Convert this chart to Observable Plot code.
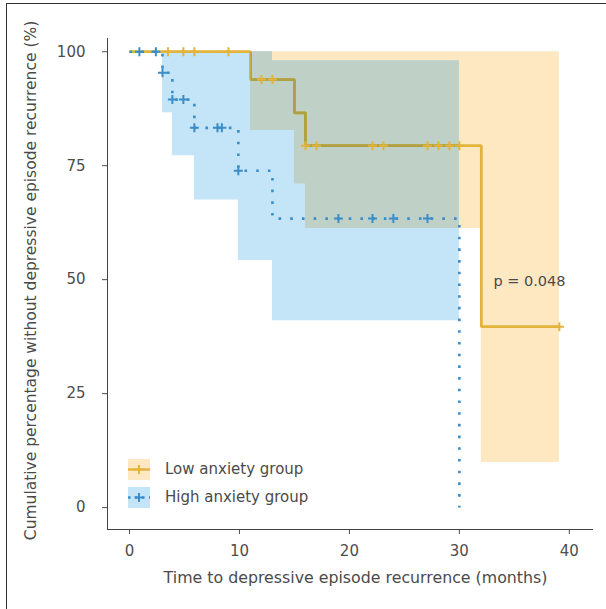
<!DOCTYPE html>
<html>
<head>
<meta charset="utf-8">
<script src="https://cdn.jsdelivr.net/npm/d3@7"></script>
<script src="https://cdn.jsdelivr.net/npm/@observablehq/plot@0.6"></script>
<style>
  body { margin: 0; background: #fff; }
  #wrap { position: relative; width: 606px; height: 609px; overflow: hidden; font-family: "DejaVu Sans", sans-serif; }
  #border { position: absolute; left: 6px; top: 3px; width: 600px; height: 640px; border-top: 1.5px solid #333; border-left: 1.5px solid #333; pointer-events: none; }
  #legend { position: absolute; left: 128px; top: 455px; }
  .row { display: flex; align-items: center; height: 28px; }
  .row svg { display: block; }
  .row span { margin-left: 15px; font-size: 15px; color: #4a4a4a; line-height: 1; }
</style>
</head>
<body>
<div id="wrap">
  <div id="chart"></div>
  <div id="legend"></div>
  <div id="border"></div>
</div>
<script>
// ---- data ----
const groups = ["Low anxiety group", "High anxiety group"];
const xTicks = [0, 10, 20, 30, 40];
const yTicks = [0, 25, 50, 75, 100];
const xDomain = [-2, 42.2];
const yDomain = [-4.8, 102.9];
const xTitle = "Time to depressive episode recurrence (months)";
const yTitle = "Cumulative percentage without depressive episode recurrence (%)";
const pText = "p = 0.048";

// Low anxiety group (Kaplan–Meier steps)
const lowStepTime = [0, 11, 15, 16, 32, 39.1];
const lowStepSurv = [100, 93.9, 86.6, 79.4, 39.7, 39.7];
const lowCensorTime = [3.5, 4.9, 5.9, 9, 12, 13, 16, 17, 22.1, 23.1, 27.1, 28.1, 29.1, 30, 39.1];
const lowCensorSurv = [100, 100, 100, 100, 93.9, 93.9, 79.4, 79.4, 79.4, 79.4, 79.4, 79.4, 79.4, 79.4, 39.7];
const lowBandTime = [0, 11, 15, 16, 32, 39.1];
const lowBandLow  = [100, 82.7, 71.0, 61.2, 9.9, 9.9];
const lowBandHigh = [100, 100, 100, 100, 100, 100];

// High anxiety group
const highStepTime = [0, 3, 3.9, 5.9, 9.9, 13, 30];
const highStepSurv = [100, 95.4, 89.5, 83.3, 73.9, 63.4, 0];
const highCensorTime = [0.9, 2.4, 3, 3.9, 4.9, 5.9, 8, 8.4, 9.9, 19, 22.1, 24, 27.1];
const highCensorSurv = [100, 100, 95.4, 89.5, 89.5, 83.3, 83.3, 83.3, 73.9, 63.4, 63.4, 63.4, 63.4];
const highBandTime = [0, 3, 3.9, 5.9, 9.9, 13, 30];
const highBandLow  = [100, 86.6, 77.2, 67.5, 54.2, 41.0, 41.0];
const highBandHigh = [100, 100, 100, 100, 100, 98, 98];

// ---- colours ----
const lowLine = "#E2B43C", lowLineOver = "#ADA045", lowFill = "#FDE8C2";
const highLine = "#3A8DC8", highFill = "#C4E4F7";
const overlapFill = "#BFD1C7";
const textColor = "#4a4a4a";

// ---- tables ----
const zipTo = (t, a, b) => t.map((x, i) => (b ? { t: x, lo: a[i], hi: b[i] } : { t: x, s: a[i] }));
const lowLineData = zipTo(lowStepTime, lowStepSurv);
const highLineData = zipTo(highStepTime, highStepSurv);
const lowCens = zipTo(lowCensorTime, lowCensorSurv);
const highCens = zipTo(highCensorTime, highCensorSurv);
const lowBand = zipTo(lowBandTime, lowBandLow, lowBandHigh);
const highBand = zipTo(highBandTime, highBandLow, highBandHigh);

function stepAt(times, vals, t) {
  let v = vals[0];
  for (let i = 0; i < times.length; i++) if (times[i] <= t) v = vals[i];
  return v;
}
const ovEnd = Math.min(lowBandTime[lowBandTime.length - 1], highBandTime[highBandTime.length - 1]);
const ovTimes = Array.from(new Set([...lowBandTime, ...highBandTime])).filter(t => t <= ovEnd).sort((a, b) => a - b);
const overlap = ovTimes.map(t => {
  const lo = Math.max(stepAt(lowBandTime, lowBandLow, t), stepAt(highBandTime, highBandLow, t));
  const hi = Math.min(stepAt(lowBandTime, lowBandHigh, t), stepAt(highBandTime, highBandHigh, t));
  return { t, lo, hi: Math.max(lo, hi) };
});

const plusSymbol = {
  draw(ctx) { const r = 4.5; ctx.moveTo(-r, 0); ctx.lineTo(r, 0); ctx.moveTo(0, -r); ctx.lineTo(0, r); }
};

const lineOpts = { x: "t", y: "s", curve: "step-after", strokeWidth: 2.8, strokeLinecap: "butt", strokeLinejoin: "miter" };

const chart = Plot.plot({
  width: 606,
  height: 609,
  marginLeft: 107,
  marginRight: 13,
  marginTop: 38,
  marginBottom: 80,
  style: { fontFamily: "DejaVu Sans, sans-serif", fontSize: "15px", color: "#4d4d4d", background: "transparent" },
  x: { domain: xDomain },
  y: { domain: yDomain },
  marks: [
    Plot.areaY(lowBand, { x: "t", y1: "lo", y2: "hi", curve: "step-after", fill: lowFill }),
    Plot.areaY(highBand, { x: "t", y1: "lo", y2: "hi", curve: "step-after", fill: highFill }),
    Plot.areaY(overlap, { x: "t", y1: "lo", y2: "hi", curve: "step-after", fill: overlapFill }),
    Plot.line(lowLineData, { ...lineOpts, stroke: lowLine }),
    Plot.line(lowLineData, { ...lineOpts, stroke: lowLineOver }),
    Plot.line(highLineData, { ...lineOpts, stroke: highLine, strokeWidth: 2.6, strokeDasharray: "2.6 9.1" }),
    Plot.dot(lowCens, { x: "t", y: "s", symbol: plusSymbol, stroke: lowLine, strokeWidth: 2, r: 4 }),
    Plot.dot(highCens, { x: "t", y: "s", symbol: plusSymbol, stroke: highLine, strokeWidth: 2, r: 4 }),
    Plot.axisX({ ticks: xTicks, tickSize: 5, tickPadding: 11, label: null, fontSize: 15 }),
    Plot.axisY({ ticks: yTicks, tickSize: 5, tickPadding: 17, label: null, fontSize: 15 }),
    Plot.ruleX([xDomain[0]], { y1: yDomain[0], y2: yDomain[1], stroke: "#444" }),
    Plot.ruleY([yDomain[0]], { x1: xDomain[0], x2: xDomain[1], stroke: "#444" }),
    Plot.text([pText], { x: 33.1, y: 49.6, text: d => d, textAnchor: "start", fontSize: 14.5, fill: textColor }),
    Plot.text([xTitle], { frameAnchor: "bottom", text: d => d, dy: 53, dx: 5, fontSize: 15.8, fill: textColor }),
    Plot.text([yTitle], { frameAnchor: "left", text: d => d, rotate: -90, textAnchor: "middle", lineAnchor: "middle", dx: -76, dy: -3.5, fontSize: 15.5, fill: textColor })
  ]
});
document.getElementById("chart").appendChild(chart);

// clip the darker (olive) copy of the low-anxiety line to the region where both bands overlap
(function () {
  const svg = d3.select(chart);
  const find = (attr, val) => svg.selectAll("g").filter(function () {
    const a = this.getAttribute(attr);
    return a && a.toLowerCase() === val.toLowerCase();
  });
  const ovG = find("fill", overlapFill);
  const lnG = find("stroke", lowLineOver);
  if (ovG.empty() || lnG.empty()) { lnG.attr("display", "none"); return; }
  const ov = ovG.select("path");
  const defs = svg.insert("defs", ":first-child");
  const cp = defs.append("clipPath").attr("id", "ov-clip");
  const p = cp.append("path").attr("d", ov.attr("d"));
  const t = ovG.attr("transform");
  if (t) p.attr("transform", t);
  lnG.attr("clip-path", "url(#ov-clip)");
})();

// ---- legend ----
const legendStyles = [
  { fill: lowFill, stroke: lowLine, dash: null },
  { fill: highFill, stroke: highLine, dash: "2.6 4.4" }
];
const legend = document.getElementById("legend");
groups.forEach((g, i) => {
  const st = legendStyles[i];
  const row = document.createElement("div");
  row.className = "row";
  row.innerHTML =
    `<svg width="22" height="21"><rect width="22" height="21" fill="${st.fill}"/>` +
    `<line x1="0" x2="22" y1="10.5" y2="10.5" stroke="${st.stroke}" stroke-width="2.4" ${st.dash ? `stroke-dasharray="${st.dash}"` : ""}/>` +
    `<line x1="11" x2="11" y1="6" y2="15" stroke="${st.stroke}" stroke-width="2"/>` +
    `<line x1="6.5" x2="15.5" y1="10.5" y2="10.5" stroke="${st.stroke}" stroke-width="2"/></svg>` +
    `<span>${g}</span>`;
  legend.appendChild(row);
});
</script>
</body>
</html>
